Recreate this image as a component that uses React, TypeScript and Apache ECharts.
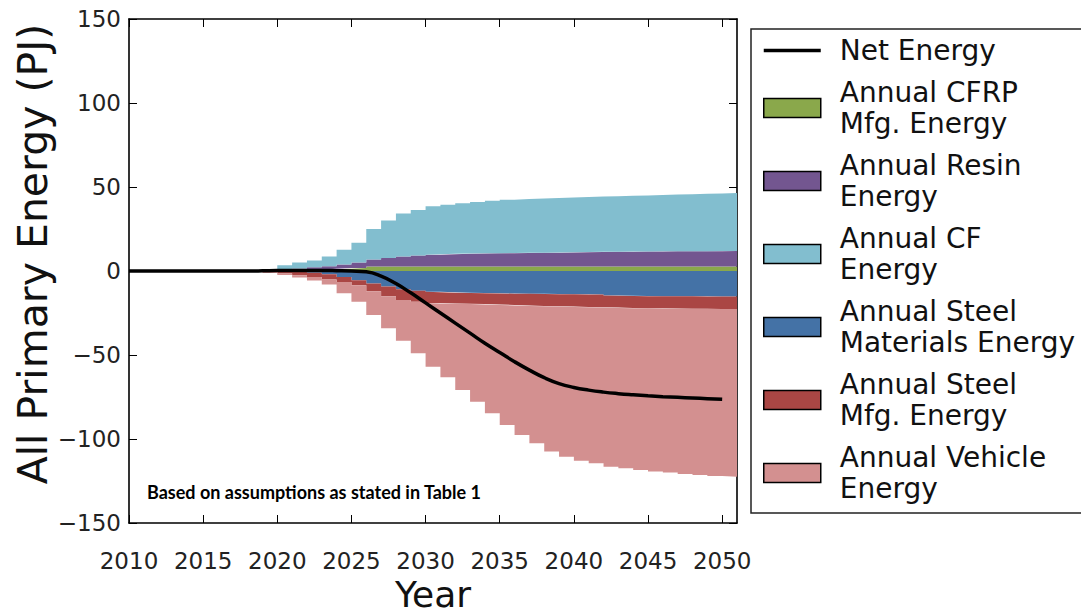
import React, { useEffect, useRef } from "react";
import * as echarts from "echarts";

// ---- data (PJ per year; each value holds for [year, year+1]) ----
const years = [
  2010, 2011, 2012, 2013, 2014, 2015, 2016, 2017, 2018, 2019,
  2020, 2021, 2022, 2023, 2024, 2025, 2026, 2027, 2028, 2029,
  2030, 2031, 2032, 2033, 2034, 2035, 2036, 2037, 2038, 2039,
  2040, 2041, 2042, 2043, 2044, 2045, 2046, 2047, 2048, 2049, 2050,
];
const lastStepEnd = 2051;
const yTickValues = [-150, -100, -50, 0, 50, 100, 150];

const netEnergy = [
  0, 0, 0, 0, 0, 0, 0, 0, 0, 0.1,
  0.3, 0.3, 0.3, 0.3, 0.2, 0, -0.5, -3, -7.5, -13,
  -19, -25, -31, -37, -43, -48.5, -54, -59, -63.5, -67,
  -69.3, -70.9, -72.1, -73.0, -73.7, -74.3, -74.8, -75.2, -75.6, -76.0, -76.4,
];
const cfrpMfg = [
  0, 0, 0, 0, 0, 0, 0, 0, 0, 0,
  0.3, 0.5, 0.8, 1.0, 1.4, 1.8, 2.7, 2.7, 2.7, 2.7,
  2.7, 2.7, 2.7, 2.7, 2.7, 2.7, 2.7, 2.7, 2.7, 2.7,
  2.7, 2.7, 2.7, 2.7, 2.7, 2.7, 2.7, 2.7, 2.7, 2.7, 2.7,
];
const resin = [
  0, 0, 0, 0, 0, 0, 0, 0, 0, 0,
  0.7, 1.0, 1.4, 1.8, 2.4, 3.2, 4.1, 5.1, 5.9, 6.5,
  7.0, 7.3, 7.5, 7.7, 7.8, 7.9, 8.0, 8.1, 8.2, 8.3,
  8.4, 8.6, 8.7, 8.8, 8.9, 8.9, 9.0, 9.0, 9.1, 9.1, 9.2,
];
const cf = [
  0, 0, 0, 0, 0, 0, 0, 0, 0, 0.4,
  2.4, 3.5, 4.1, 5.9, 8.9, 11.8, 18.2, 22.2, 25.7, 27.1,
  28.8, 29.5, 30.1, 30.6, 31.3, 31.8, 32.1, 32.4, 32.6, 32.8,
  32.9, 33.0, 33.1, 33.3, 33.4, 33.6, 33.8, 34.0, 34.2, 34.4, 34.5,
];
const steelMaterials = [
  0, 0, 0, 0, 0, 0, 0, 0, 0, 0,
  0, -0.3, -1.0, -2.0, -3.5, -5.5, -7.5, -9.2, -10.8, -11.7,
  -12.3, -12.7, -12.9, -13.1, -13.3, -13.4, -13.5, -13.6, -13.7, -13.8,
  -13.9, -14.0, -14.6, -14.8, -14.9, -15.0, -15.0, -15.1, -15.1, -15.2, -15.2,
];
const steelMfg = [
  0, 0, 0, 0, 0, 0, 0, 0, 0, -0.5,
  -1.5, -2.2, -2.5, -3.0, -3.0, -3.0, -4.5, -5.8, -6.5, -6.6,
  -6.7, -6.6, -6.6, -6.6, -6.7, -6.8, -7.0, -7.2, -7.3, -7.4,
  -7.5, -7.6, -7.2, -7.2, -7.2, -7.2, -7.3, -7.3, -7.4, -7.4, -7.4,
];
const vehicle = [
  0, 0, 0, 0, 0, 0, 0, 0, -0.3, -0.7,
  -0.9, -1.3, -2.1, -3.0, -6.8, -9.8, -14.2, -19.1, -24.2, -30.7,
  -38.0, -44.0, -51.3, -58.1, -64.7, -71.5, -77.1, -81.8, -86.5, -89.3,
  -91.5, -92.9, -94.7, -95.4, -96.4, -97.2, -97.7, -98.4, -98.9, -99.4, -99.8,
];

const names = {
  net: "Net Energy",
  cfrp: "Annual CFRP\nMfg. Energy",
  resin: "Annual Resin\nEnergy",
  cf: "Annual CF\nEnergy",
  steelMat: "Annual Steel\nMaterials Energy",
  steelMfg: "Annual Steel\nMfg. Energy",
  vehicle: "Annual Vehicle\nEnergy",
};
const xTitle = "Year";
const yTitle = "All Primary Energy (PJ)";
const annotation = "Based on assumptions as stated in Table 1";

const colors = {
  cfrp: "#8AA84B",
  resin: "#735690",
  cf: "#82BECF",
  steelMat: "#4472A6",
  steelMfg: "#AA4644",
  vehicle: "#D39090",
};

// categories: every year boundary, including the end of the last yearly step
const categories = [...years, lastStepEnd].map(String);
const stepData = (vals: number[]) => [...vals, vals[vals.length - 1]];

const FONT = "DejaVu Sans";

const areaSeries = (name: string, vals: number[], color: string, stack: string) => ({
  name,
  type: "line",
  stack,
  step: "end",
  symbol: "none",
  data: stepData(vals),
  color,
  itemStyle: { color },
  lineStyle: { width: 0, color },
  areaStyle: { color, opacity: 1 },
  emphasis: { disabled: true },
  z: 2,
});

const frameLine = { show: true, onZero: false, lineStyle: { color: "#000", width: 1.6 } };
const frameTick = { show: true, inside: true, length: 8, lineStyle: { color: "#000", width: 1 } };

export default function App() {
  const ref = useRef<HTMLDivElement>(null);
  useEffect(() => {
    if (!ref.current) return;
    const chart = echarts.init(ref.current, null, { renderer: "svg" });
    const xBase = {
      type: "category",
      data: categories,
      boundaryGap: false,
      axisLine: frameLine,
      axisTick: { ...frameTick, interval: 4 },
      splitLine: { show: false },
    };
    const yBase = {
      type: "value",
      min: yTickValues[0],
      max: yTickValues[yTickValues.length - 1],
      interval: yTickValues[1] - yTickValues[0],
      axisLine: frameLine,
      axisTick: frameTick,
      splitLine: { show: false },
    };
    chart.setOption({
      animation: false,
      backgroundColor: "#ffffff",
      textStyle: { fontFamily: FONT },
      grid: { left: 129, top: 19, width: 608, height: 504, containLabel: false },
      xAxis: [
        {
          ...xBase,
          position: "bottom",
          axisLabel: { interval: 4, margin: 26, fontSize: 23, color: "#222", fontFamily: FONT },
        },
        { ...xBase, position: "top", axisLabel: { show: false } },
      ],
      yAxis: [
        {
          ...yBase,
          position: "left",
          axisLabel: {
            margin: 8,
            fontSize: 23,
            color: "#222",
            fontFamily: FONT,
            formatter: (v: number) => String(v).replace("-", "\u2212"),
          },
        },
        { ...yBase, position: "right", axisLabel: { show: false } },
      ],
      legend: {
        orient: "vertical",
        left: 762,
        top: 35,
        padding: 0,
        itemGap: 11,
        itemWidth: 57,
        itemHeight: 19,
        selectedMode: false,
        itemStyle: { borderColor: "#000", borderWidth: 1.5 },
        textStyle: {
          fontSize: 28,
          lineHeight: 31,
          color: "#111",
          fontFamily: FONT,
          padding: [0, 0, 0, 14],
        },
        data: [
          { name: names.net, itemStyle: { opacity: 0 }, lineStyle: { width: 3.5, color: "#000" } },
          { name: names.cfrp, icon: "rect" },
          { name: names.resin, icon: "rect" },
          { name: names.cf, icon: "rect" },
          { name: names.steelMat, icon: "rect" },
          { name: names.steelMfg, icon: "rect" },
          { name: names.vehicle, icon: "rect" },
        ],
      },
      graphic: [
        {
          type: "rect",
          shape: { x: 751, y: 29, width: 400, height: 484 },
          style: { fill: "none", stroke: "#222", lineWidth: 1.5 },
          silent: true,
        },
        {
          type: "text",
          x: 33,
          y: 254,
          rotation: Math.PI / 2,
          style: {
            text: yTitle,
            font: `41px "${FONT}"`,
            lineHeight: 41,
            fill: "#111",
            align: "center",
            verticalAlign: "middle",
          },
          silent: true,
        },
        {
          type: "text",
          x: 433,
          y: 594,
          style: {
            text: xTitle,
            font: `36px "${FONT}"`,
            lineHeight: 36,
            fill: "#111",
            align: "center",
            verticalAlign: "middle",
          },
          silent: true,
        },
        {
          type: "text",
          x: 147,
          y: 483,
          style: { text: annotation, font: "bold 18px Lato", fill: "#000" },
          z: 10,
          silent: true,
        },
      ],
      series: [
        areaSeries(names.cfrp, cfrpMfg, colors.cfrp, "pos"),
        areaSeries(names.resin, resin, colors.resin, "pos"),
        areaSeries(names.cf, cf, colors.cf, "pos"),
        areaSeries(names.steelMat, steelMaterials, colors.steelMat, "neg"),
        areaSeries(names.steelMfg, steelMfg, colors.steelMfg, "neg"),
        areaSeries(names.vehicle, vehicle, colors.vehicle, "neg"),
        {
          name: names.net,
          type: "line",
          data: netEnergy,
          symbol: "none",
          smooth: 0.5,
          color: "#000",
          lineStyle: { color: "#000", width: 3.5 },
          emphasis: { disabled: true },
          z: 5,
        },
      ],
    });
    return () => chart.dispose();
  }, []);
  return (
    <div
      ref={ref}
      style={{ position: "fixed", left: 0, top: 0, width: 1081, height: 614, background: "#fff" }}
    />
  );
}
